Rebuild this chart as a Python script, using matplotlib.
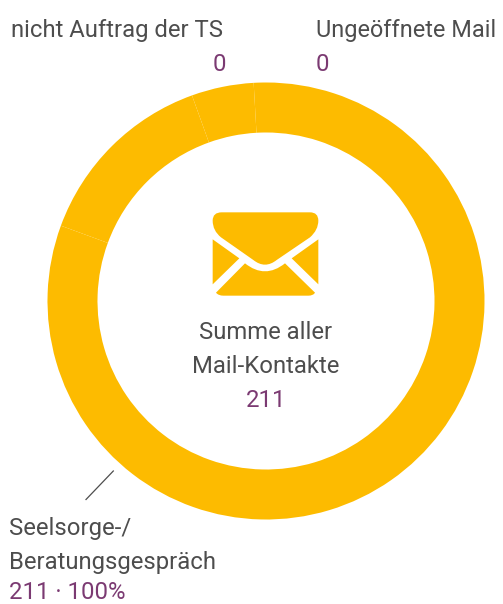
import matplotlib
matplotlib.use("Agg")
import matplotlib.pyplot as plt
from matplotlib.path import Path
from matplotlib.patches import PathPatch

W, H = 503, 604
# Ring sections (share of the circle, clockwise from the top)
section_names = ["Seelsorge-/Beratungsgespräch", "Abschnitt 2", "Abschnitt 3", "Abschnitt 4"]
section_shares = [80.6, 13.9, 4.6, 0.9]
total_label = "211"
category_labels = ["nicht Auftrag der TS", "Ungeöffnete Mail"]
category_values = ["0", "0"]
main_label = ["Seelsorge-/", "Beratungsgespräch"]
main_value = "211 · 100%"

GOLD = "#FDBB00"
GREY = "#4D4D4D"
PURPLE = "#7B3A72"
FONT = "Roboto"
FS = 17.2

fig = plt.figure(figsize=(W / 100, H / 100), dpi=100, facecolor="white")
ax = fig.add_axes([0, 0, 1, 1])
ax.set_xlim(0, W)
ax.set_ylim(0, H)
ax.axis("off")

cx, cy, R, r = 266, 301, 218.5, 168.5
ax.pie(section_shares, colors=[GOLD] * 4, startangle=90, counterclock=False,
       center=(cx, H - cy), radius=R, frame=True,
       wedgeprops=dict(width=R - r, linewidth=0))
ax.set_xlim(0, W)
ax.set_ylim(0, H)
ax.set_aspect("equal")
ax.axis("off")


def T(x, y, s, color=GREY, ha="left", size=FS):
    ax.text(x, H - y, s, color=color, ha=ha, va="baseline", fontsize=size, family=FONT)


T(11, 37, category_labels[0])
T(226, 71, category_values[0], PURPLE, "right")
T(316, 37, category_labels[1], size=16.9)
T(316, 71, category_values[1], PURPLE)
T(266, 339, "Summe aller", ha="center")
T(266, 373, "Mail-Kontakte", ha="center")
T(266, 407, total_label, PURPLE, "center")
T(9, 535, main_label[0])
T(9, 569, main_label[1])
T(9, 599, main_value, PURPLE)

ax.plot([113.3, 86], [H - 471, H - 499.5], color=GREY, lw=0.9)


# Envelope icon, outlined in the reference crop's 3x coordinates
def P(x, y):
    return (190 + x / 3, H - (200 + y / 3))


def icon(cmds):
    verts, codes = [], []
    for c, pts in cmds:
        for p in pts:
            verts.append(P(*p))
            codes.append(c)
    verts.append(verts[0])
    codes.append(Path.CLOSEPOLY)
    ax.add_patch(PathPatch(Path(verts, codes), fc=GOLD, ec="none", lw=0))


M, L, C = Path.MOVETO, Path.LINETO, Path.CURVE3
icon([(M, [(95, 37)]), (L, [(360, 37)]), (C, [(385, 37), (385, 62)]),
      (C, [(385, 90), (360, 112)]), (L, [(260, 180)]), (C, [(225, 208), (190, 180)]),
      (L, [(93, 112)]), (C, [(68, 92), (68, 62)]), (C, [(68, 37), (95, 37)])])
icon([(M, [(68, 118)]), (L, [(148, 175)]), (L, [(68, 253)])])
icon([(M, [(385, 118)]), (L, [(305, 175)]), (L, [(385, 253)])])
icon([(M, [(78, 278)]), (L, [(165, 190)]), (C, [(225, 238), (285, 190)]),
      (L, [(375, 278)]), (C, [(370, 287), (355, 287)]), (L, [(100, 287)]),
      (C, [(85, 287), (78, 278)])])

fig.savefig("out.png", dpi=100, facecolor="white")
